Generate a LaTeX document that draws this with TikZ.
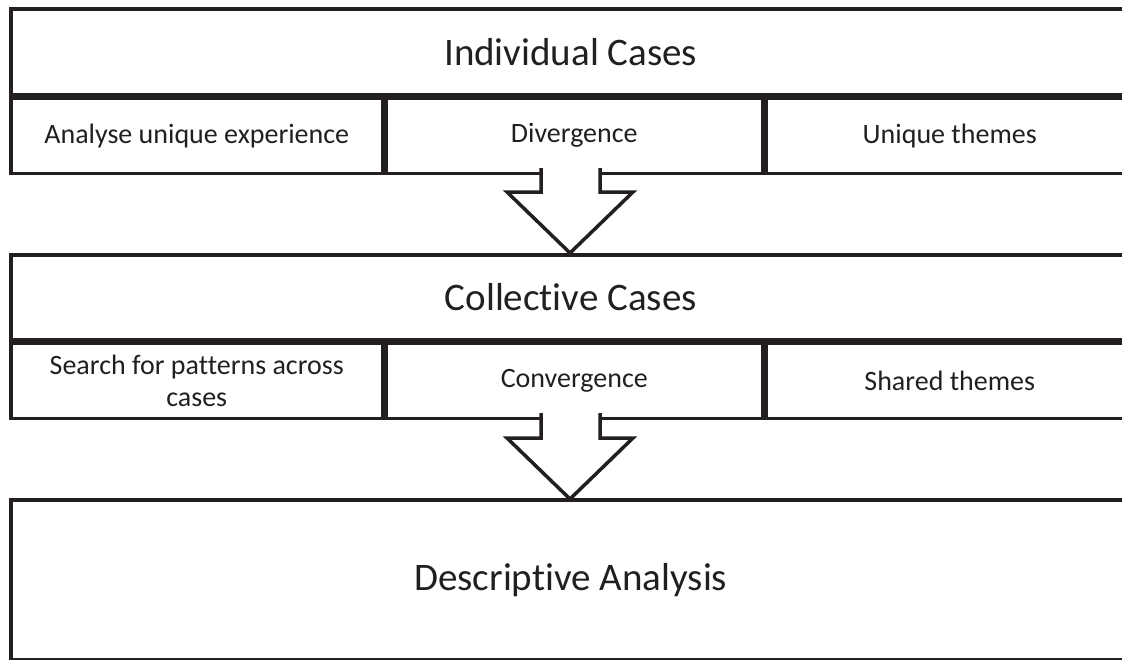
\documentclass[tikz,border=0pt]{standalone}
\usepackage{fontspec}
\setmainfont{Carlito}[Ligatures=NoCommon]
\usetikzlibrary{positioning}
\definecolor{ink}{HTML}{231F20}
\tikzstyle{bigbox} = [draw=ink, line width=3.5pt, rectangle, inner sep=0pt, anchor=north west, minimum width=1120pt, text=ink, font=\fontsize{39}{46}\selectfont]
\tikzstyle{subbox} = [draw=ink, line width=3.5pt, rectangle, inner sep=0pt, anchor=north west, minimum height=75pt, text=ink, align=center, font=\fontsize{28}{32}\selectfont]
\tikzstyle{blockarrow} = [draw=ink, line width=3.5pt, line join=miter, fill=white]

\begin{document}
\begin{tikzpicture}[x=1pt,y=-1pt]
\useasboundingbox (0,0) rectangle (1122,659);
\clip (0,0) rectangle (1122,659);

\node[bigbox, minimum height=86pt] (indiv) at (9,7) {Individual Cases};
\node[subbox, minimum width=372pt] (analyse) at (indiv.south west) {Analyse unique experience};
\node[subbox, minimum width=376pt] (diverge) at (analyse.north east) {Divergence};
\node[subbox, minimum width=368pt] (uniq) at (diverge.north east) {Unique themes};

\node[bigbox, minimum height=85pt] (coll) at (9,253) {Collective Cases};
\node[subbox, minimum width=372pt] (search) at (coll.south west) {Search for patterns across\\cases};
\node[subbox, minimum width=376pt] (converge) at (search.north east) {Convergence};
\node[subbox, minimum width=368pt] (shared) at (converge.north east) {Shared themes};

\node[bigbox, minimum height=160pt] (descr) at (9,498) {Descriptive Analysis};

\draw[blockarrow] (541,168) coordinate(a_1) -- (541,192) -- (507,192) -- (570,253) coordinate(a_tip) -- (633,192) -- (600,192) -- (600,168) coordinate(a_2);
\draw[blockarrow] (541,413) coordinate(b_1) -- (541,438) -- (507,438) -- (570,499) coordinate(b_tip) -- (633,438) -- (600,438) -- (600,413) coordinate(b_2);

\end{tikzpicture}
\end{document}
